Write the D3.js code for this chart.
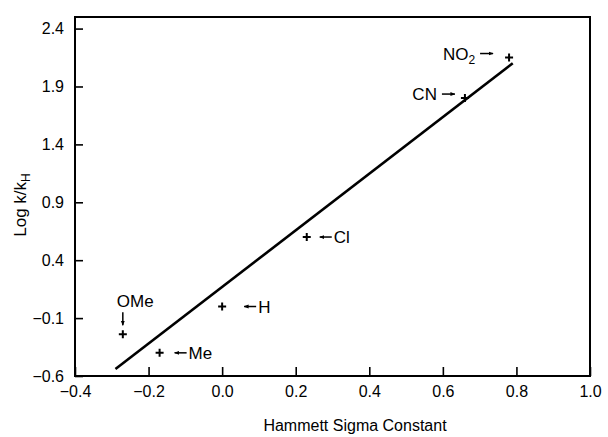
<!DOCTYPE html>
<html>
<head>
<meta charset="utf-8">
<script src="https://cdn.jsdelivr.net/npm/d3@7"></script>
<style>
  body { margin: 0; background: #fff; }
  svg { font-family: "Liberation Sans", Arial, sans-serif; }
</style>
</head>
<body>
<svg id="chart"></svg>
<script>
// substituents, Hammett sigma and measured log k/kH
const substituents = ['OMe', 'Me', 'H', 'Cl', 'CN', 'NO2'];
const sigma = [-0.27, -0.17, 0.0, 0.23, 0.66, 0.78];
const logRatio = [-0.24, -0.40, 0.0, 0.60, 1.80, 2.15];

// fitted line, end points as drawn
const fitSigma = [-0.29, 0.79];
const fitLog = [-0.54, 2.10];

const xTicks = [-0.4, -0.2, 0.0, 0.2, 0.4, 0.6, 0.8, 1.0];
const yTicks = [-0.6, -0.1, 0.4, 0.9, 1.4, 1.9, 2.4];

const width = 608;
const height = 437;
const margin = { top: 17, right: 18, bottom: 61, left: 75 };

const svg = d3.select('#chart')
  .attr('width', width)
  .attr('height', height);

const x = d3.scaleLinear()
  .domain([-0.4, 1.0])
  .range([margin.left, width - margin.right]);

const y = d3.scaleLinear()
  .domain([-0.6, 2.5])
  .range([height - margin.bottom, margin.top]);

const fmt = d3.format('.1f');

// frame
svg.append('rect')
  .attr('x', margin.left)
  .attr('y', margin.top)
  .attr('width', width - margin.left - margin.right)
  .attr('height', height - margin.top - margin.bottom)
  .attr('fill', 'none')
  .attr('stroke', '#000')
  .attr('stroke-width', 2);

// axes, ticks point inward
const xAxis = svg.append('g')
  .attr('transform', `translate(0,${height - margin.bottom})`)
  .call(d3.axisBottom(x).tickValues(xTicks).tickFormat(fmt)
    .tickSizeInner(-9).tickSizeOuter(0).tickPadding(10));

const yAxis = svg.append('g')
  .attr('transform', `translate(${margin.left},0)`)
  .call(d3.axisLeft(y).tickValues(yTicks).tickFormat(fmt)
    .tickSizeInner(-8).tickSizeOuter(0).tickPadding(11));

[xAxis, yAxis].forEach(g => {
  g.select('.domain').remove();
  g.selectAll('line').attr('stroke-width', 1.6);
  g.selectAll('text')
    .attr('font-size', 16)
    .attr('font-family', '"Liberation Sans", Arial, sans-serif')
    .attr('fill', '#000');
});

// axis titles
svg.append('text')
  .attr('x', 355)
  .attr('y', 431)
  .attr('text-anchor', 'middle')
  .attr('font-size', 16)
  .text('Hammett Sigma Constant');

const yTitle = svg.append('text')
  .attr('transform', 'translate(26,205) rotate(-90)')
  .attr('text-anchor', 'middle')
  .attr('font-size', 17);
yTitle.append('tspan').text('Log k/k');
yTitle.append('tspan').attr('font-size', 12).attr('dy', 4).text('H');

// regression line
svg.append('path')
  .datum(fitSigma.map((s, i) => [s, fitLog[i]]))
  .attr('fill', 'none')
  .attr('stroke', '#000')
  .attr('stroke-width', 2.6)
  .attr('d', d3.line().x(d => x(d[0])).y(d => y(d[1])));

// data points as small crosses
const points = substituents.map((name, i) => ({ name, s: sigma[i], v: logRatio[i] }));

svg.append('g')
  .selectAll('path')
  .data(points)
  .enter()
  .append('path')
  .attr('transform', d => `translate(${x(d.s)},${y(d.v)})`)
  .attr('d', 'M-4,0H4M0,-4V4')
  .attr('stroke', '#000')
  .attr('stroke-width', 2);

// arrow head
svg.append('defs').append('marker')
  .attr('id', 'head')
  .attr('viewBox', '0 0 10 10')
  .attr('refX', 9).attr('refY', 5)
  .attr('markerWidth', 5).attr('markerHeight', 5)
  .attr('markerUnits', 'userSpaceOnUse')
  .attr('orient', 'auto')
  .append('path')
  .attr('d', 'M0,1L10,5L0,9Z')
  .attr('fill', '#000');

// label placement: side of the point, gap from point to arrow tip
const placement = {
  OMe: { side: 'above', gap: 11 },
  Me: { side: 'right', gap: 15 },
  H: { side: 'right', gap: 22 },
  Cl: { side: 'right', gap: 13 },
  CN: { side: 'left', gap: 10 },
  NO2: { side: 'left', gap: 16 }
};

const labels = svg.append('g');
points.forEach(d => {
  const px = x(d.s), py = y(d.v);
  const p = placement[d.name];
  let ax1, ay1, ax2, ay2, tx, ty, anchor;
  if (p.side === 'above') {
    ax1 = px; ay1 = py - p.gap - 11; ax2 = px; ay2 = py - p.gap + 2;
    tx = px - 6; ty = py - p.gap - 16; anchor = 'start';
  } else if (p.side === 'right') {
    ax1 = px + p.gap + 12; ax2 = px + p.gap; ay1 = ay2 = py;
    tx = ax1 + 2; ty = py + 6; anchor = 'start';
  } else {
    ax1 = px - p.gap - 13; ax2 = px - p.gap; ay1 = ay2 = py - 4;
    tx = ax1 - 5; ty = py + 2; anchor = 'end';
  }
  labels.append('line')
    .attr('x1', ax1).attr('y1', ay1)
    .attr('x2', ax2).attr('y2', ay2)
    .attr('stroke', '#000')
    .attr('stroke-width', 1.5)
    .attr('marker-end', 'url(#head)');

  const t = labels.append('text')
    .attr('x', tx).attr('y', ty)
    .attr('text-anchor', anchor)
    .attr('font-size', 17);
  if (d.name === 'NO2') {
    t.append('tspan').text('NO');
    t.append('tspan').attr('font-size', 12).attr('dy', 4).text('2');
  } else {
    t.text(d.name);
  }
});
</script>
</body>
</html>
